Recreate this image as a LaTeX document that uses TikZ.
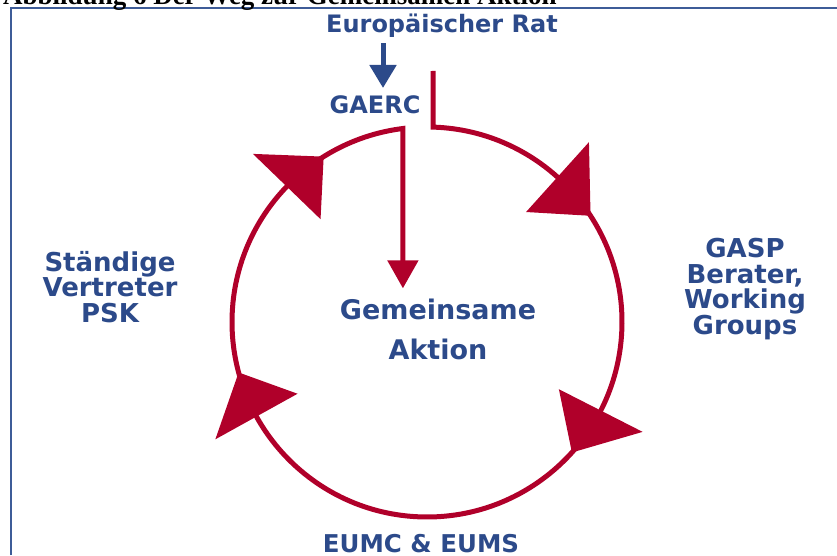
\documentclass[tikz,border=0pt]{standalone}
\usepackage{fontspec}
\setmainfont{DejaVu Sans}
\newfontfamily\captionfont{Liberation Serif}
\usetikzlibrary{arrows.meta,calc}
\definecolor{euBlue}{RGB}{44,74,138}
\definecolor{euRed}{RGB}{176,0,42}
\definecolor{frameBlue}{RGB}{62,92,152}

\begin{document}
\begin{tikzpicture}[x=1pt,y=1pt]
    \tikzstyle{every node} = [font=\bfseries\fontsize{24}{25}\selectfont, text=euBlue, inner sep=0pt]
    \tikzstyle{side} = [align=center, font=\bfseries\fontsize{26}{25.5}\selectfont]
    \tikzstyle{ring} = [draw=euRed, line width=5pt]
    \tikzstyle{bluearrow} = [draw=euBlue, line width=5pt, -{Triangle[width=26pt,length=23pt]}]
    \useasboundingbox (0,0) rectangle (837,555);
    \clip (0,0) rectangle (837,555);

    % frame and caption
    \draw[frameBlue, line width=2pt] (11,0) -- (11,547) -- (837,547);
    \node[anchor=base west, text=black, font=\captionfont\bfseries\fontsize{27}{30}\selectfont] (caption) at (3,550) {Abbildung 6 Der Weg zur Gemeinsamen Aktion};

    % place nodes
    \coordinate (centre) at (427,233);
    \coordinate (ratline) at (433,484);
    \node[anchor=base] (eurat) at (442,522) {Europäischer Rat};
    \node[anchor=base] (gaerc) at (375,441) {GAERC};
    \node[align=center, font=\bfseries\fontsize{27}{40}\selectfont] (aktion) at (438,226) {Gemeinsame\\Aktion};
    \node[side] (psk) at (110,268) {Ständige\\Vertreter\\PSK};
    \node[side] (gasp) at (745,266) {GASP\\Berater,\\Working\\Groups};
    \node[anchor=base, font=\bfseries\fontsize{24.5}{25}\selectfont] (eumc) at (421,3) {EUMC \& EUMS};

    % Connections
    \draw[bluearrow] ($(eurat.south -| gaerc.north)+(8,-5)$) -- ($(gaerc.north)+(8,8)$);
    \draw[ring, -{Triangle[width=30pt,length=28pt]}]
    (ratline) -- ($(centre)+(88.2:195)$) arc[start angle=88.2, end angle=-262.9, radius=195] coordinate (gaercjoin)
    -- ($(gaercjoin |- aktion.north)+(0,10)$);

    % arrow heads on the ring
    \foreach \b/\t in {136/122, 48/33, -27/-42, 209/195}
    \fill[euRed, shift={(centre)}] (\b:148) -- (\b:242) -- (\t:195) -- cycle;
\end{tikzpicture}
\end{document}
